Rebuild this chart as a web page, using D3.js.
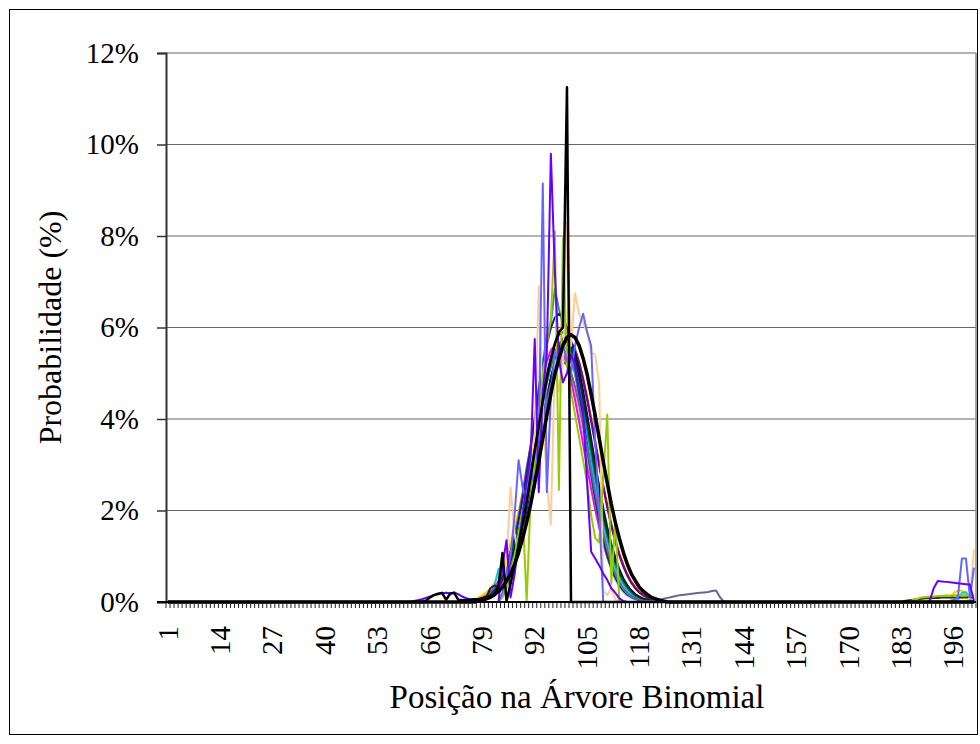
<!DOCTYPE html>
<html>
<head>
<meta charset="utf-8">
<script src="https://cdn.jsdelivr.net/npm/d3@7/dist/d3.min.js"></script>
<style>
  body { margin: 0; background: #fff; }
  svg text { font-family: "Liberation Serif", "Times New Roman", serif; fill: #000; }
</style>
</head>
<body>
<svg id="chart" width="980" height="744"></svg>
<script>
// positions na arvore binomial 1..201
const categories = d3.range(1, 202);
const xTickLabels = [1, 14, 27, 40, 53, 66, 79, 92, 105, 118, 131, 144, 157, 170, 183, 196];
const yTicks = [0, 2, 4, 6, 8, 10, 12];

// each series: values (in %) starting at a given position, zero elsewhere
const theoStart = 78;
const theo = [0.02, 0.04, 0.07, 0.10, 0.16, 0.23, 0.32, 0.46, 0.61, 0.82, 1.08, 1.39, 1.74, 2.14, 2.60, 3.07, 3.58, 4.08, 4.54, 4.98, 5.33, 5.61, 5.78, 5.84,
  5.78, 5.61, 5.33, 4.98, 4.54, 4.08, 3.58, 3.07, 2.60, 2.14, 1.74, 1.39, 1.08, 0.82, 0.61, 0.46, 0.32, 0.23, 0.16, 0.10, 0.07, 0.04, 0.02];

const brown = [0.05, 0.07, 0.10, 0.16, 0.22, 0.32, 0.44, 0.60, 0.81, 1.06, 1.36, 1.71, 2.12, 2.56, 3.03, 3.52, 4.01, 4.48, 4.90, 5.26, 5.53, 5.69, 5.75,
  5.69, 5.53, 5.26, 4.90, 4.48, 4.01, 3.52, 3.03, 2.56, 2.12, 1.71, 1.36, 1.06, 0.81, 0.60, 0.44, 0.32, 0.22, 0.16, 0.10, 0.07, 0.05, 0.03, 0.02];
const navyDark = [0.04, 0.07, 0.11, 0.16, 0.25, 0.37, 0.54, 0.75, 1.03, 1.37, 1.79, 2.27, 2.82, 3.40, 4.00, 4.60, 5.15, 5.63, 5.99, 6.22, 6.30,
  6.22, 5.99, 5.63, 5.15, 4.60, 4.00, 3.40, 2.82, 2.27, 1.79, 1.37, 1.03, 0.75, 0.54, 0.37, 0.25, 0.16, 0.11, 0.07, 0.04, 0.03, 0.02, 0.01, 0, 0, 0];
const darkGreen = [0.05, 0.07, 0.11, 0.30, 0.36, 0.33, 0.48, 0.67, 0.90, 1.19, 1.53, 1.94, 2.40, 2.89, 3.42, 3.95, 4.47, 4.94, 5.34, 5.64, 5.84, 5.90,
  5.84, 5.64, 5.34, 4.94, 4.47, 3.95, 3.42, 2.89, 2.40, 1.94, 1.53, 1.19, 0.90, 0.67, 0.48, 0.34, 0.24, 0.16, 0.11, 0.07, 0.05, 0.03, 0.02, 0.01, 0];
const orange = [0.05, 0.07, 0.10, 0.15, 0.22, 0.32, 0.46, 0.63, 0.84, 1.12, 1.44, 1.82, 2.25, 2.72, 3.21, 3.72, 4.20, 4.65, 5.02, 5.31, 5.49, 5.55,
  5.49, 5.31, 5.02, 4.65, 4.20, 3.72, 3.21, 2.72, 2.25, 1.82, 1.44, 1.12, 0.84, 0.63, 0.46, 0.32, 0.22, 0.15, 0.10, 0.07, 0.05, 0.03, 0.02, 0.01, 0];
const gold = [0.10, 0.15, 0.21, 0.30, 0.42, 0.57, 0.76, 1.00, 1.28, 1.61, 1.99, 2.40, 2.85, 3.31, 3.77, 4.21, 4.60, 4.94, 5.19, 5.35, 5.40,
  5.35, 5.19, 4.94, 4.60, 4.21, 3.77, 3.31, 2.85, 2.40, 1.99, 1.61, 1.28, 1.00, 0.76, 0.57, 0.42, 0.30, 0.21, 0.15, 0.10, 0.06, 0.04, 0.02, 0.01, 0, 0];
const goldTail = [0.20, 0.25, 0.25, 0.15, 0.05];
const purple = [0.04, 0.06, 0.09, 0.14, 0.21, 0.30, 0.42, 0.58, 0.79, 1.04, 1.33, 1.68, 2.09, 2.53, 3.00, 3.49, 3.98, 4.45, 4.87, 5.22, 5.49, 5.65, 5.70,
  5.64, 5.47, 5.20, 4.84, 4.42, 3.95, 3.46, 2.97, 2.50, 2.06, 1.66, 1.31, 1.01, 0.77, 0.57, 0.41, 0.29, 0.20, 0.14, 0.09, 0.06, 0.04, 0.02, 0.01];
const seaGreen = [0.05, 0.08, 0.12, 0.18, 0.26, 0.38, 0.55, 0.76, 1.05, 1.40, 1.85, 2.30, 2.85, 3.45, 4.05, 4.70, 5.25, 5.80, 6.10, 6.85, 6.40,
  6.05, 5.80, 5.40, 5.00, 4.45, 3.90, 3.30, 2.75, 2.20, 1.75, 1.35, 1.00, 0.74, 0.53, 0.37, 0.25, 0.17, 0.11, 0.07, 0.04, 0.03, 0.02, 0.01, 0, 0, 0];
const lightBlue = [0.03, 0.05, 0.08, 0.12, 0.18, 0.27, 0.39, 0.55, 0.76, 1.02, 1.33, 1.70, 2.12, 2.58, 3.06, 3.55, 4.03, 4.47, 4.85, 5.14, 5.31, 5.35,
  5.25, 5.02, 4.68, 4.25, 3.75, 3.22, 2.69, 2.18, 1.72, 1.31, 0.97, 0.70, 0.48, 0.32, 0.21, 0.13, 0.08, 0.05, 0.03, 0.02, 0.01, 0, 0, 0, 0];
const pink = [0.03, 0.05, 0.07, 0.11, 0.16, 0.24, 0.34, 0.48, 0.66, 0.88, 1.15, 1.48, 1.86, 2.29, 2.75, 3.23, 3.71, 4.17, 4.60, 4.96, 5.24, 5.41, 5.45,
  5.36, 5.15, 4.83, 4.42, 3.95, 3.44, 2.92, 2.42, 1.95, 1.54, 1.18, 0.88, 0.64, 0.45, 0.31, 0.21, 0.14, 0.09, 0.06, 0.04, 0.02, 0.01, 0, 0];
const skyBlue = [0.05, 0.07, 0.10, 0.20, 0.35, 0.72, 0.45, 0.70, 0.95, 1.25, 1.60, 2.00, 2.45, 2.92, 3.40, 3.90, 4.38, 4.80, 5.15, 5.42, 5.58, 5.62,
  5.52, 5.30, 4.98, 4.57, 4.10, 3.60, 3.08, 2.57, 2.10, 1.67, 1.30, 0.99, 0.73, 0.52, 0.36, 0.24, 0.16, 0.10, 0.06, 0.04, 0.02, 0.01, 0, 0, 0];
const skyBlueTail = [0.05, 0.20, 0.22, 0.05];
const turquoise = [0.04, 0.06, 0.09, 0.13, 0.19, 0.27, 0.38, 0.52, 0.71, 0.94, 1.22, 1.55, 1.93, 2.36, 2.82, 3.30, 3.78, 4.24, 4.66, 5.02, 5.29, 5.46, 5.50,
  5.42, 5.22, 4.91, 4.51, 4.05, 3.55, 3.04, 2.54, 2.07, 1.65, 1.28, 0.97, 0.72, 0.52, 0.36, 0.25, 0.17, 0.11, 0.07, 0.04, 0.03, 0.02, 0.01, 0];
const magenta = [0.06, 0.09, 0.14, 0.21, 0.30, 0.43, 0.60, 0.82, 1.10, 1.45, 1.88, 2.38, 2.95, 3.40, 3.95, 4.45, 4.90, 5.25, 5.50, 5.62, 5.60,
  5.45, 5.20, 4.85, 4.42, 3.95, 3.45, 2.95, 2.47, 2.02, 1.62, 1.27, 0.98, 0.74, 0.54, 0.39, 0.27, 0.18, 0.12, 0.08, 0.05, 0.03, 0.02, 0.01, 0, 0, 0];
const navy = [0.03, 0.05, 0.08, 0.12, 0.18, 0.26, 0.37, 0.52, 0.72, 0.97, 1.27, 1.63, 2.04, 2.50, 2.98, 3.48, 3.98, 4.45, 4.88, 5.25, 5.55, 5.75, 5.80,
  5.70, 5.45, 5.08, 4.62, 4.10, 3.56, 3.02, 2.51, 2.04, 1.62, 1.26, 0.96, 0.71, 0.51, 0.36, 0.25, 0.17, 0.11, 0.07, 0.04, 0.03, 0.02, 0.01, 0];
const teal = [0.04, 0.06, 0.10, 0.15, 0.22, 0.32, 0.46, 0.64, 0.87, 1.16, 1.50, 1.90, 2.35, 2.83, 3.33, 3.84, 4.33, 4.78, 5.16, 5.46, 5.65, 5.72,
  5.66, 5.47, 5.17, 4.77, 4.30, 3.79, 3.27, 2.76, 2.27, 1.83, 1.44, 1.10, 0.83, 0.61, 0.43, 0.30, 0.20, 0.13, 0.09, 0.06, 0.04, 0.02, 0.01, 0, 0];
const lavender = [0.03, 0.05, 0.08, 0.12, 0.17, 0.25, 0.35, 0.49, 0.67, 0.90, 1.18, 1.51, 1.89, 2.32, 2.78, 3.25, 3.72, 4.17, 4.57, 4.92, 5.18, 5.33, 5.36,
  5.27, 5.06, 4.75, 4.35, 3.89, 3.40, 2.90, 2.41, 1.96, 1.56, 1.21, 0.91, 0.67, 0.48, 0.33, 0.23, 0.15, 0.10, 0.06, 0.04, 0.02, 0.01, 0, 0];

// noisy series
const violetPre = [0.02, 0.04, 0.06, 0.09, 0.12, 0.15, 0.17, 0.19, 0.20, 0.19, 0.21, 0.17, 0.12, 0.08, 0.06, 0.05];   // from 62
const violet = [0.80, 1.35, 0.10, 0.60, 1.30, 1.90, 2.60, 3.20, 5.75, 2.40, 4.60, 5.40, 9.80, 7.20, 5.30, 4.80, 5.00, 5.40, 5.20, 4.60,
  4.20, 2.60, 1.10, 0.95, 0.80, 0.62, 0.48, 0.30, 0.20, 0.08, 0.02];                                                     // from 84
const violetTail = [0.02, 0.30, 0.46, 0.45, 0.44, 0.43, 0.42, 0.41, 0.40, 0.39, 0.38, 0.02];                              // from 190
const blue = [0.20, 0.60, 1.00, 1.90, 3.10, 2.50, 2.20, 3.00, 2.50, 3.60, 9.15, 2.40, 4.50, 5.50, 5.20, 5.60, 5.30, 5.00, 5.60, 6.00,
  6.30, 5.90, 5.60, 3.50, 2.00, 0, 0];                                                                                    // from 84
const blueTail = [0.05, 0.10, 0.95, 0.95, 0.10, 0.75];                                                                   // from 196
const peach = [0.20, 0.90, 2.50, 1.50, 1.00, 1.80, 2.40, 3.10, 3.60, 6.90, 4.20, 2.60, 1.70, 5.30, 4.60, 5.20, 8.30, 5.60, 6.75, 6.30,
  6.10, 5.90, 5.45, 5.40, 4.75, 0.25, 0.15, 0.30, 0.05, 0];                                                              // from 84
const peachTail = [0.10, 1.15];                                                                                           // from 200
const lime = [0.10, 0.30, 0.60, 1.00, 1.50, 2.00, 0.00, 2.30, 3.00, 4.00, 5.00, 5.60, 6.20, 8.10, 2.45, 7.95, 5.20, 4.60, 4.10, 3.60,
  3.10, 2.60, 1.90, 1.40, 1.30, 2.70, 4.10, 0.40, 1.80, 0];                                                              // from 84
const limeTail = [0.05, 0.07, 0.10, 0.11, 0.12, 0.12, 0.13, 0.13, 0.14, 0.14, 0.15, 0.15, 0.15, 0.15, 0.15, 0.15];       // from 186
const slate = [0.08, 0.12, 0.18, 0.27, 0.39, 0.55, 0.76, 1.02, 1.34, 1.71, 2.13, 2.58, 3.05, 3.53, 3.99, 4.41, 4.76, 5.03, 5.20, 5.25,
  5.18, 5.00, 4.71, 4.33, 3.88, 3.39, 2.88, 2.38, 1.92, 1.50, 1.14, 0.84, 0.60, 0.42, 0.28, 0.18, 0.11, 0.07,
  0.05, 0.03, 0.02, 0.02, 0.03, 0.05, 0.07, 0.09, 0.11, 0.13, 0.15, 0.16, 0.17, 0.18, 0.19, 0.20, 0.21, 0.22, 0.24, 0.25, 0.10, 0]; // from 80
const olive = [0.03, 0.04, 0.05, 0.06, 0.07, 0.08, 0.08, 0.09, 0.09, 0.10, 0.10, 0.10, 0.10, 0.10, 0.10, 0.10, 0.10, 0.10]; // from 184
const spikePre = [0.03, 0.10, 0.15, 0.18, 0.20, 0.05, 0.18, 0.20, 0.05, 0.04, 0.04, 0.05, 0.06];                          // from 65
const spike = [0.06, 0.08, 0.10, 0.12, 0.15, 0.35, 1.07, 0.02, 0.40, 0.80, 1.25, 1.70, 2.20, 2.75, 3.30, 3.85, 4.40, 4.90, 5.30, 5.65,
  5.90, 6.00, 11.25, 0];                                                                                                  // from 78

const series = [
  { color: '#993300', w: 2, parts: [[78, brown]] },
  { color: '#800080', w: 2, parts: [[78, purple]] },
  { color: '#FF6600', w: 2, parts: [[77, orange]] },
  { color: '#FFCC00', w: 2, parts: [[78, gold], [196, goldTail]] },
  { color: '#FF99CC', w: 2, parts: [[78, pink]] },
  { color: '#CC99FF', w: 2, parts: [[78, lavender]] },
  { color: '#99CCFF', w: 2, parts: [[78, lightBlue]] },
  { color: '#00CCFF', w: 2, parts: [[78, skyBlue], [197, skyBlueTail]] },
  { color: '#33CCCC', w: 2, parts: [[78, turquoise]] },
  { color: '#FF00FF', w: 2, parts: [[78, magenta]] },
  { color: '#008080', w: 2, parts: [[78, teal]] },
  { color: '#339966', w: 2, parts: [[78, seaGreen]] },
  { color: '#000080', w: 2, parts: [[78, navy]] },
  { color: '#003300', w: 2, parts: [[78, darkGreen]] },
  { color: '#333300', w: 2, parts: [[184, olive]] },
  { color: '#003366', w: 2, parts: [[78, navyDark]] },
  { color: '#666699', w: 2, parts: [[80, slate]] },
  { color: '#FFCC99', w: 2, parts: [[84, peach], [200, peachTail]] },
  { color: '#99CC00', w: 2, parts: [[84, lime], [186, limeTail]] },
  { color: '#6666FF', w: 2, parts: [[84, blue], [196, blueTail]] },
  { color: '#6600FF', w: 2, parts: [[62, violetPre], [84, violet], [190, violetTail]] },
  { color: '#000000', w: 2.5, parts: [[65, spikePre], [78, spike]] },
  { color: '#000000', w: 3.5, parts: [[theoStart, theo]] }
];

const svg = d3.select('#chart');
const plot = { left: 166, right: 976, top: 53, bottom: 602 };

const x = d3.scaleBand().domain(categories).range([plot.left, plot.right]);
const xc = c => x(c) + x.bandwidth() / 2;
const y = d3.scaleLinear().domain([0, 12]).range([plot.bottom, plot.top]);

// outer chart border
svg.append('rect')
  .attr('x', 9.5).attr('y', 9.5).attr('width', 968).attr('height', 725)
  .attr('fill', 'none').attr('stroke', '#000').attr('stroke-width', 1);

// gridlines
svg.append('g').selectAll('line').data(yTicks.filter(d => d > 0)).join('line')
  .attr('x1', plot.left).attr('x2', plot.right)
  .attr('y1', d => y(d)).attr('y2', d => y(d))
  .attr('stroke', '#666').attr('stroke-width', 1.2);

svg.append('line')
  .attr('x1', plot.right).attr('x2', plot.right).attr('y1', plot.top).attr('y2', plot.bottom)
  .attr('stroke', '#888').attr('stroke-width', 1.5);

// y axis
const yAxis = d3.axisLeft(y).tickValues(yTicks).tickFormat(d => d + '%').tickSize(9).tickPadding(18);
const yg = svg.append('g').attr('transform', `translate(${plot.left},0)`).call(yAxis);
yg.select('.domain').attr('stroke', '#333').attr('stroke-width', 2);
yg.selectAll('.tick line').attr('stroke', '#333').attr('stroke-width', 1.5);
yg.selectAll('.tick text').style('font-size', '29px').attr('font-family', null);

// series lines
const line = d3.line().x(d => xc(d.c)).y(d => y(d.v));
series.forEach(s => {
  const vals = categories.map(c => ({ c: c, v: 0 }));
  s.parts.forEach(([start, arr]) => {
    arr.forEach((v, i) => { vals[start - 1 + i].v = v; });
  });
  svg.append('path')
    .datum(vals)
    .attr('d', line)
    .attr('fill', 'none')
    .attr('stroke', s.color)
    .attr('stroke-width', s.w)
    .attr('stroke-linejoin', 'round');
});

// x axis: one small tick per category boundary
svg.append('g').selectAll('line').data(categories.concat([null])).join('line')
  .attr('x1', d => d === null ? plot.right : x(d))
  .attr('x2', d => d === null ? plot.right : x(d))
  .attr('y1', plot.bottom).attr('y2', plot.bottom + 6)
  .attr('stroke', '#222').attr('stroke-width', 1);

svg.append('line')
  .attr('x1', plot.left - 9).attr('x2', plot.right).attr('y1', plot.bottom).attr('y2', plot.bottom)
  .attr('stroke', '#000').attr('stroke-width', 2.2);

svg.append('g').selectAll('text').data(xTickLabels).join('text')
  .attr('transform', d => `translate(${xc(d)},626) rotate(-90)`)
  .attr('text-anchor', 'end')
  .attr('dy', '0.33em')
  .style('font-size', '29px')
  .text(d => d);

// axis titles
svg.append('text')
  .attr('transform', `translate(${(plot.left + plot.right) / 2 + 6},708)`)
  .attr('text-anchor', 'middle')
  .style('font-size', '33px')
  .text('Posição na Árvore Binomial');

svg.append('text')
  .attr('transform', `translate(61,${(plot.top + plot.bottom) / 2}) rotate(-90)`)
  .attr('text-anchor', 'middle')
  .style('font-size', '32px')
  .text('Probabilidade (%)');
</script>
</body>
</html>
